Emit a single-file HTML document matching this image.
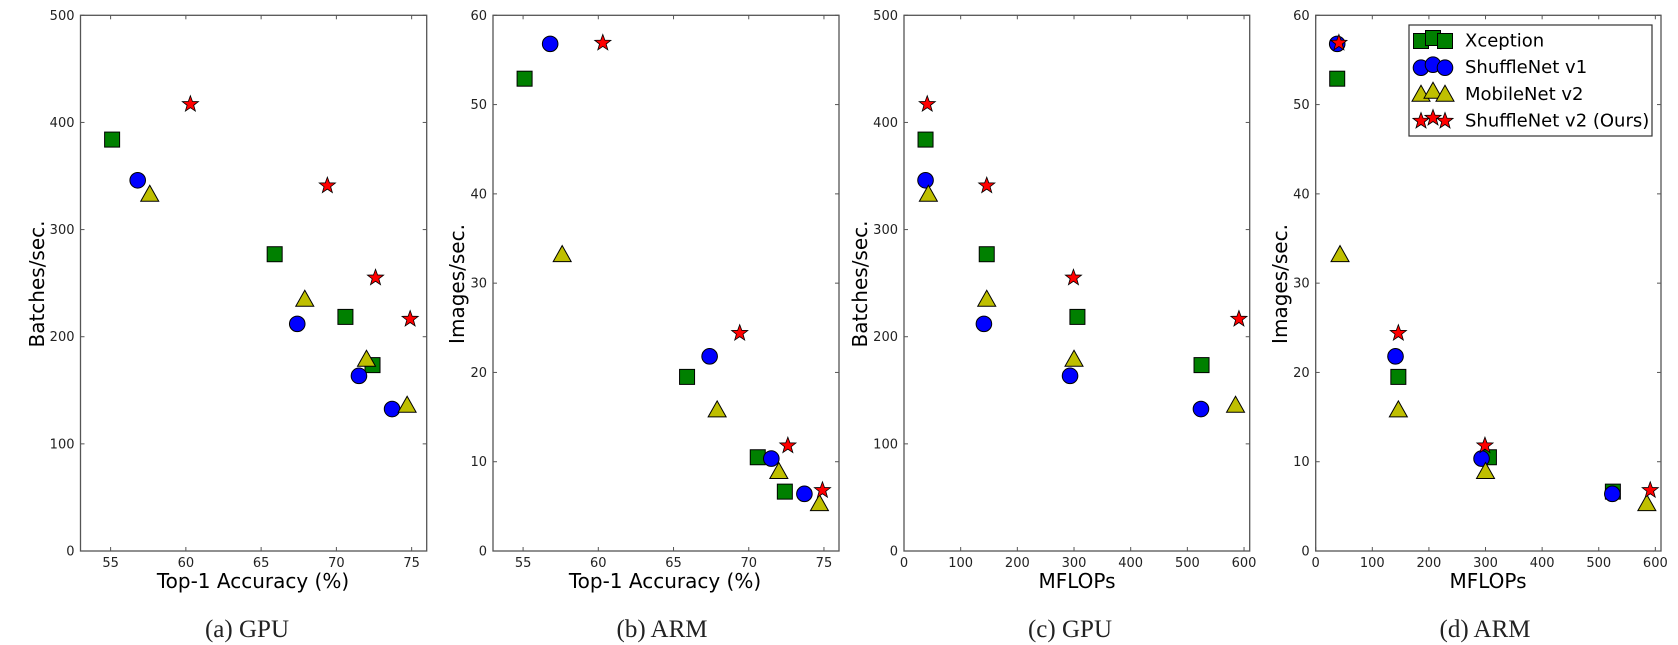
<!DOCTYPE html>
<html><head><meta charset="utf-8"><style>
html,body{margin:0;padding:0;background:#fff;}
svg{display:block;}
.tick{font-family:"DejaVu Sans","Liberation Sans",sans-serif;font-size:13px;fill:#222;}
.atitle{font-family:"DejaVu Sans","Liberation Sans",sans-serif;font-size:20px;fill:#000;}
.cap{font-family:"Liberation Serif","DejaVu Serif",serif;font-size:25px;fill:#222;}
.leg{font-family:"DejaVu Sans","Liberation Sans",sans-serif;font-size:18px;fill:#000;}
</style></head><body>
<svg id="fig" width="1678" height="645" viewBox="0 0 1678 645"></svg>
<script>
// ---- data ----
const seriesNames = ["Xception","ShuffleNet v1","MobileNet v2","ShuffleNet v2 (Ours)"];
const accXception = [55.1, 65.9, 70.6, 72.4];
const accShuffleV1 = [56.8, 67.4, 71.5, 73.7];
const accMobileV2 = [57.6, 67.9, 72.0, 74.7];
const accShuffleV2 = [60.3, 69.4, 72.6, 74.9];
const flopsXception = [38, 146, 306, 525];
const flopsShuffleV1 = [38, 141, 293, 524];
const flopsMobileV2 = [43, 146, 300, 585];
const flopsShuffleV2 = [41, 146, 299, 591];
const gpuXception = [384, 277, 218.5, 173.5];
const gpuShuffleV1 = [346, 212, 163.5, 132.5];
const gpuMobileV2 = [333, 235, 179, 136];
const gpuShuffleV2 = [417, 341, 255, 216.5];
const armXception = [52.9, 19.5, 10.5, 6.65];
const armShuffleV1 = [56.8, 21.8, 10.35, 6.4];
const armMobileV2 = [33.2, 15.8, 8.9, 5.3];
const armShuffleV2 = [56.9, 24.4, 11.8, 6.8];
const accTicks = [55, 60, 65, 70, 75];
const flopsTicks = [0, 100, 200, 300, 400, 500, 600];
const gpuTicks = [0, 100, 200, 300, 400, 500];
const armTicks = [0, 10, 20, 30, 40, 50, 60];

const NS = "http://www.w3.org/2000/svg";
const svg = document.getElementById('fig');
function mk(tag, attrs, parent){
  const e = document.createElementNS(NS, tag);
  for (const k in attrs) e.setAttribute(k, attrs[k]);
  (parent||svg).appendChild(e);
  return e;
}
const colors = ["#008000","#0000ff","#bfbf00","#ff0000"];
const shapes = ["square","circle","triangle","star"];

function marker(g, shape, cx, cy, color){
  let e;
  if (shape === "square") {
    e = mk('rect',{x:cx-7.5,y:cy-7.5,width:15,height:15,fill:color,stroke:'#000','stroke-width':1},g);
  } else if (shape === "circle") {
    e = mk('circle',{cx:cx,cy:cy,r:7.8,fill:color,stroke:'#000','stroke-width':1},g);
  } else if (shape === "triangle") {
    e = mk('polygon',{points:`${cx},${cy-9} ${cx+9},${cy+7} ${cx-9},${cy+7}`,fill:color,stroke:'#000','stroke-width':1},g);
  } else {
    let pts=[];
    for(let i=0;i<10;i++){const r=i%2?3.5:8.5;const a=-Math.PI/2+i*Math.PI/5;pts.push((cx+r*Math.cos(a)).toFixed(2)+","+(cy+r*Math.sin(a)).toFixed(2));}
    e = mk('polygon',{points:pts.join(' '),fill:color,stroke:'#000','stroke-width':0.8},g);
  }
  return e;
}

const T0 = 15.3, B0 = 551;
const panels = [
  {id:'a', L:80.5, R:426.7, xmin:53, xmax:76, ymin:0, ymax:500, xt:accTicks, yt:gpuTicks,
   xs:[accXception,accShuffleV1,accMobileV2,accShuffleV2], ys:[gpuXception,gpuShuffleV1,gpuMobileV2,gpuShuffleV2],
   xlabel:"Top-1 Accuracy (%)", ylabel:"Batches/sec.", cap:"(a) GPU", ytx:37, xtc:253, capx:247},
  {id:'b', L:493, R:839, xmin:53, xmax:76, ymin:0, ymax:60, xt:accTicks, yt:armTicks,
   xs:[accXception,accShuffleV1,accMobileV2,accShuffleV2], ys:[armXception,armShuffleV1,armMobileV2,armShuffleV2],
   xlabel:"Top-1 Accuracy (%)", ylabel:"Images/sec.", cap:"(b) ARM", ytx:457, xtc:665, capx:662},
  {id:'c', L:904, R:1249.7, xmin:0, xmax:610, ymin:0, ymax:500, xt:flopsTicks, yt:gpuTicks,
   xs:[flopsXception,flopsShuffleV1,flopsMobileV2,flopsShuffleV2], ys:[gpuXception,gpuShuffleV1,gpuMobileV2,gpuShuffleV2],
   xlabel:"MFLOPs", ylabel:"Batches/sec.", cap:"(c) GPU", ytx:860, xtc:1077, capx:1070},
  {id:'d', L:1315.7, R:1661, xmin:0, xmax:610, ymin:0, ymax:60, xt:flopsTicks, yt:armTicks,
   xs:[flopsXception,flopsShuffleV1,flopsMobileV2,flopsShuffleV2], ys:[armXception,armShuffleV1,armMobileV2,armShuffleV2],
   xlabel:"MFLOPs", ylabel:"Images/sec.", cap:"(d) ARM", ytx:1280, xtc:1488, capx:1485}
];

panels.forEach(p=>{
  p.T = T0; p.B = B0;
  const g = mk('g',{});
  
  
  const X = v => p.L + (v - p.xmin)/(p.xmax - p.xmin)*(p.R - p.L);
  const Y = v => p.B - (v - p.ymin)/(p.ymax - p.ymin)*(p.B - p.T);
  const frame = mk('rect',{x:p.L,y:p.T,width:p.R-p.L,height:p.B-p.T,fill:'none',stroke:'#555','stroke-width':1.3},g);
  
  
  p.xt.forEach(v=>{
    const x = X(v);
    mk('line',{x1:x,y1:p.B,x2:x,y2:p.B-4,stroke:'#555'},g);
    mk('line',{x1:x,y1:p.T,x2:x,y2:p.T+4,stroke:'#555'},g);
    const t = mk('text',{x:x,y:p.B+16,'text-anchor':'middle',class:'tick'},g);
    t.textContent = v;
    
    
  });
  p.yt.forEach(v=>{
    const y = Y(v);
    mk('line',{x1:p.L,y1:y,x2:p.L+4,y2:y,stroke:'#555'},g);
    mk('line',{x1:p.R,y1:y,x2:p.R-4,y2:y,stroke:'#555'},g);
    const t = mk('text',{x:p.L-6,y:y+4.5,'text-anchor':'end',class:'tick'},g);
    t.textContent = v;
    
    
  });
  const xl = mk('text',{x:p.xtc,y:588,'text-anchor':'middle',class:'atitle'},g);
  xl.textContent = p.xlabel;
  
  
  const yc = 284;
  const yl = mk('text',{x:p.ytx,y:yc,'text-anchor':'middle',class:'atitle',transform:`rotate(-90 ${p.ytx} ${yc})`,dy:'7'},g);
  yl.textContent = p.ylabel;
  
  
  const cp = mk('text',{x:p.capx,y:637,'text-anchor':'middle',class:'cap'},g);
  cp.textContent = p.cap;
  
  
  for (let s=0;s<4;s++){
    for (let i=0;i<p.xs[s].length;i++){
      const m = marker(g, shapes[s], X(p.xs[s][i]), Y(p.ys[s][i]), colors[s]);
      
      
    }
  }
});

// legend
const lg = mk('g',{});


mk('rect',{x:1409,y:25,width:243,height:111,fill:'#fff',stroke:'#333','stroke-width':1.2},lg);
const legY = [40, 66.7, 93.3, 120];
for (let s=0;s<4;s++){
  const ent = mk('g',{},lg);
  
  
  [1421,1433,1445].forEach((x,k)=>{ marker(ent, shapes[s], x, legY[s]+(k===1?-2:1), colors[s]); });
  const t = mk('text',{x:1465,y:legY[s]+6.5,class:'leg'},ent);
  t.textContent = seriesNames[s];
}
</script>
</body></html>
